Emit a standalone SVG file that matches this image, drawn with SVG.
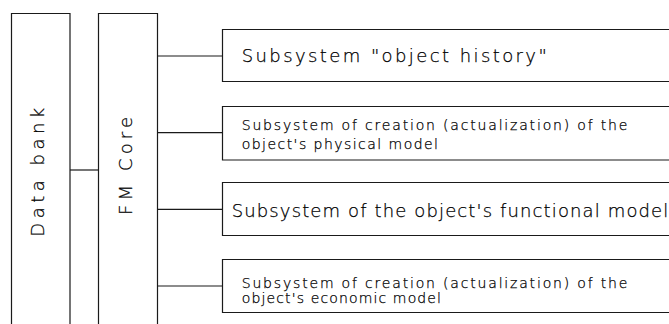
<svg xmlns="http://www.w3.org/2000/svg" width="669" height="324" viewBox="0 0 669 324">
<style>
.ln{stroke:#1a1a1a;stroke-width:1.2;fill:none}
.t{font-family:"DejaVu Sans","Liberation Sans",sans-serif;font-weight:200;fill:#000;stroke:#000;stroke-width:0.25}
.big{font-size:18px}
.sm{font-size:14px}
</style>
<rect width="669" height="324" fill="#fff"/>
<g id="data-bank">
<path class="ln" d="M11.5,324 V13.5 H70 V324"/>
<text class="t big" x="44" y="236.7" transform="rotate(-90 44 236.7)" textLength="129" lengthAdjust="spacing">Data bank</text>
</g>
<g id="fm-core">
<path class="ln" d="M98.5,324 V13.5 H157.5 V324"/>
<text class="t big" x="131.7" y="215" transform="rotate(-90 131.7 215)" textLength="98" lengthAdjust="spacing">FM Core</text>
</g>
<g id="sub-history">
<path class="ln" d="M669,29.5 H222.5 V81.5 H669"/>
<text class="t big" x="241.7" y="61.7" textLength="305" lengthAdjust="spacing">Subsystem "object history"</text>
</g>
<g id="sub-physical">
<path class="ln" d="M669,106.5 H222.5 V160 H669"/>
<text class="t sm" x="241.7" y="130" textLength="385.6" lengthAdjust="spacing">Subsystem of creation (actualization) of the</text>
<text class="t sm" x="241.7" y="149.3" textLength="196.3" lengthAdjust="spacing">object's physical model</text>
</g>
<g id="sub-functional">
<path class="ln" d="M669,182.5 H222.5 V235.5 H669"/>
<text class="t big" x="231.7" y="216.7" textLength="436.6" lengthAdjust="spacing">Subsystem of the object's functional model</text>
</g>
<g id="sub-economic">
<path class="ln" d="M669,259.5 H222.5 V312.5 H669"/>
<text class="t sm" x="241.7" y="287.7" textLength="385.6" lengthAdjust="spacing">Subsystem of creation (actualization) of the</text>
<text class="t sm" x="241.7" y="303.3" textLength="199.3" lengthAdjust="spacing">object's economic model</text>
</g>
<g id="connectors">
<path class="ln" d="M70,170 H98.5"/>
<path class="ln" d="M157.5,56 H222.5"/>
<path class="ln" d="M157.5,132.7 H222.5"/>
<path class="ln" d="M157.5,209.3 H222.5"/>
<path class="ln" d="M157.5,286 H222.5"/>
</g>
</svg>
